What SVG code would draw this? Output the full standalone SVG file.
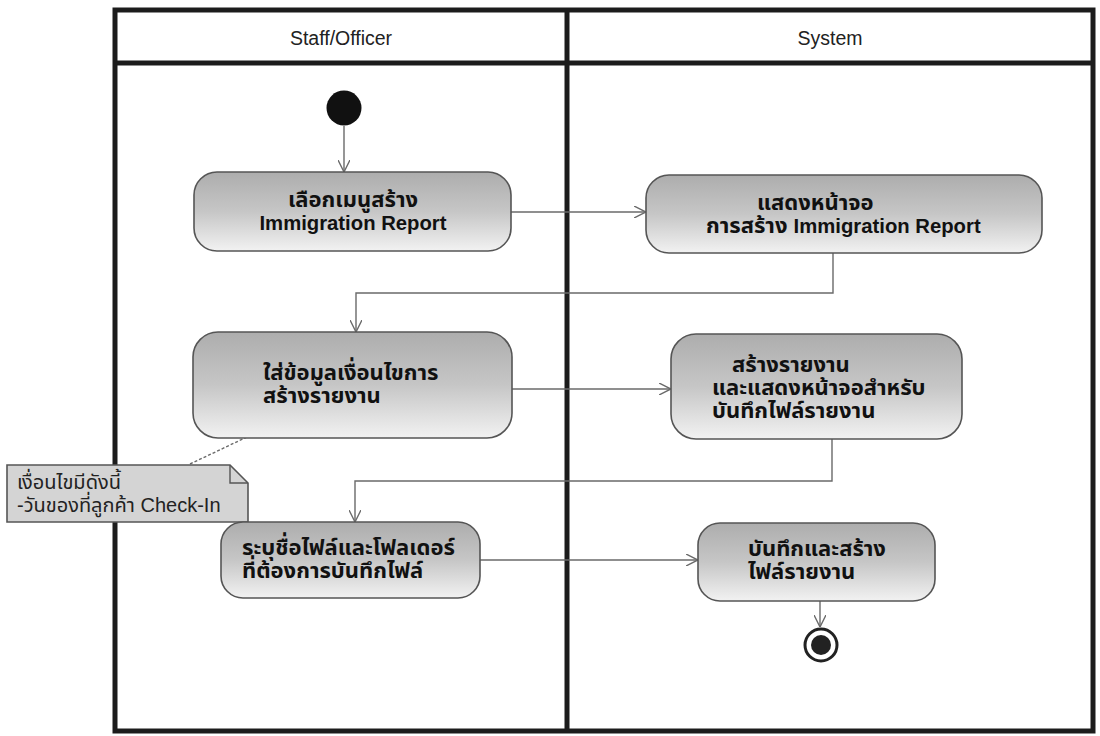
<svg xmlns="http://www.w3.org/2000/svg" width="1100" height="736" viewBox="0 0 1100 736">
<style>
.frame{fill:none;stroke:#1c1c1c;stroke-width:5}
.lane{font-family:"Liberation Sans","DejaVu Sans",sans-serif;font-size:19.5px;fill:#222}
.act{fill:url(#g);stroke:#555;stroke-width:1.6}
.t{font-family:"Liberation Sans","Noto Sans Thai","Tahoma","DejaVu Sans",sans-serif;font-size:22px;font-weight:bold;fill:#111}
.lat{font-size:20.3px}
.nt{font-family:"Liberation Sans","Noto Sans Thai","Tahoma","DejaVu Sans",sans-serif;font-size:20px;fill:#222}
.c{fill:none;stroke:#6a6a6a;stroke-width:1.4;marker-end:url(#arr)}
</style>
<defs>
<linearGradient id="g" x1="0" y1="0" x2="0" y2="1">
<stop offset="0" stop-color="#adadad"/>
<stop offset="0.5" stop-color="#c6c6c6"/>
<stop offset="1" stop-color="#f2f2f2"/>
</linearGradient>
<marker id="arr" viewBox="0 0 12 12" refX="12" refY="6" markerWidth="12" markerHeight="12" markerUnits="userSpaceOnUse" orient="auto">
<path d="M0,0 L12,6 L0,12" fill="none" stroke="#6a6a6a" stroke-width="1.4"/>
</marker>
</defs>
<rect width="1100" height="736" fill="#ffffff"/>
<g id="swimlanes">
<rect class="frame" x="115" y="10" width="978" height="721"/>
<line class="frame" x1="115" y1="63" x2="1093" y2="63"/>
<line class="frame" x1="567" y1="10" x2="567" y2="731"/>
<text class="lane" x="341" y="45" text-anchor="middle">Staff/Officer</text>
<text class="lane" x="830" y="45" text-anchor="middle">System</text>
</g>
<g id="connectors">
<path class="c" d="M344,126 L344,172"/>
<path class="c" d="M511,212 L646,212"/>
<path class="c" d="M833,253 L833,293 L356,293 L356,332"/>
<path class="c" d="M512,389 L671,389"/>
<path class="c" d="M832,439 L832,481 L355,481 L355,522"/>
<path class="c" d="M480,560 L698,560"/>
<path class="c" d="M820,601 L820,627"/>
<path d="M190,464 L247,437" fill="none" stroke="#6a6a6a" stroke-width="1.4" stroke-dasharray="3,2"/>
</g>
<g id="start">
<circle cx="344" cy="108" r="17.5" fill="#111"/>
</g>
<g id="n1">
<rect class="act" x="194" y="172" width="317" height="79" rx="23"/>
<text class="t" x="353" y="207" text-anchor="middle">เลือกเมนูสร้าง</text>
<text class="t lat" x="353" y="230" text-anchor="middle">Immigration Report</text>
</g>
<g id="n2">
<rect class="act" x="646" y="175" width="396" height="78" rx="23"/>
<text class="t" x="757" y="210">แสดงหน้าจอ</text>
<text class="t" x="706" y="233">การสร้าง <tspan class="lat">Immigration Report</tspan></text>
</g>
<g id="n3">
<rect class="act" x="193" y="332" width="319" height="106" rx="25"/>
<text class="t" x="263" y="380">ใส่ข้อมูลเงื่อนไขการ</text>
<text class="t" x="263" y="403">สร้างรายงาน</text>
</g>
<g id="n4">
<rect class="act" x="671" y="334" width="291" height="105" rx="25"/>
<text class="t" x="732" y="372">สร้างรายงาน</text>
<text class="t" x="712" y="395">และแสดงหน้าจอสำหรับ</text>
<text class="t" x="712" y="418">บันทึกไฟล์รายงาน</text>
</g>
<g id="note">
<path d="M7,465 L230,465 L248,483 L248,522 L7,522 Z" fill="#d4d4d4" stroke="#555" stroke-width="1.6"/>
<path d="M230,465 L230,483 L248,483" fill="none" stroke="#555" stroke-width="1.4"/>
<text class="nt" x="17" y="489">เงื่อนไขมีดังนี้</text>
<text class="nt" x="17" y="512">-วันของที่ลูกค้า Check-In</text>
</g>
<g id="n5">
<rect class="act" x="221" y="522" width="259" height="76" rx="22"/>
<text class="t" x="242" y="555">ระบุชื่อไฟล์และโฟลเดอร์</text>
<text class="t" x="242" y="578">ที่ต้องการบันทึกไฟล์</text>
</g>
<g id="n6">
<rect class="act" x="698" y="523" width="237" height="78" rx="22"/>
<text class="t" x="748" y="556">บันทึกและสร้าง</text>
<text class="t" x="748" y="579">ไฟล์รายงาน</text>
</g>
<g id="end">
<circle cx="821" cy="645" r="16" fill="#fff" stroke="#222" stroke-width="3"/>
<circle cx="821" cy="645" r="10" fill="#222"/>
</g>
</svg>
